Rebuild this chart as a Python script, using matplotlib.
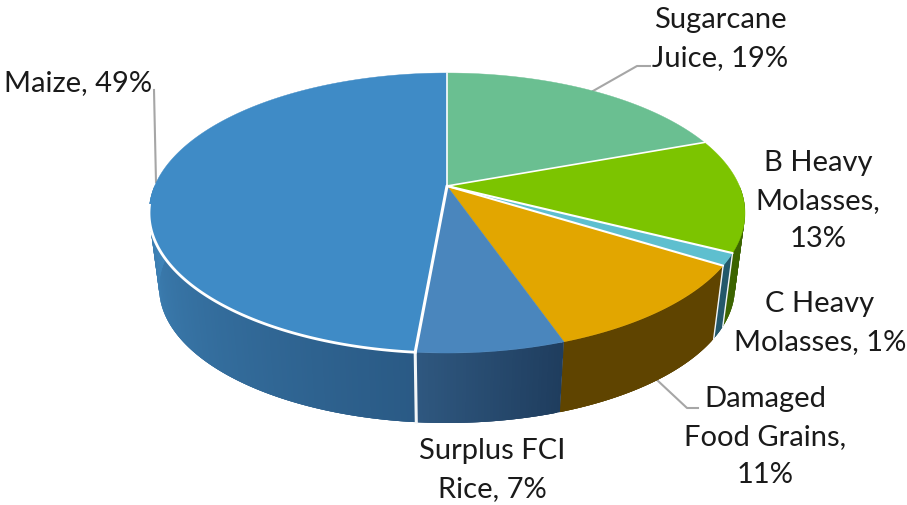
import numpy as np
import matplotlib
matplotlib.use("Agg")
import matplotlib.pyplot as plt
from matplotlib.colors import to_rgb

shares = [19.4, 13.1, 1.4, 10.8, 6.7, 48.6]
labels = ["Sugarcane\nJuice, 19%", "B Heavy\nMolasses,\n13%", "C Heavy\nMolasses, 1%",
          "Damaged\nFood Grains,\n11%", "Surplus FCI\nRice, 7%", "Maize, 49%"]

top_colors = ["#6abf91", "#7cc400", "#5ebfcf", "#e2a600", "#4a86bd", "#3f8bc6"]
side_start = ["#3c6400", "#3c6400", "#23586a", "#5f4400", "#1f3d5e", "#2a5a85"]  # right end of wall
side_end = ["#3c6400", "#3c6400", "#23586a", "#5f4400", "#2f5880", "#3f84b9"]    # left end of wall
label_pos = [(720, 39), (818, 201), (820, 323), (765, 437), (492, 470), (78, 83)]

# projection of the disc, in pixels
CX, CY, RX, RY = 447, 213, 298, 140
HUB = 27  # how far the centre of the disc sits above the middle of the ellipse
C = 0.193
D = RX * np.sqrt(1 - C ** 2)
LOW_S, LOW_CY = 0.966, 287.7


def project(t, scale=1.0, cy=CY):
    # t in degrees clockwise from the top of the disc
    u, v = np.sin(np.radians(t)), np.cos(np.radians(t))
    w = 1 + C * v
    return CX + scale * D * u / w, cy - scale * (RY * v + HUB) / w


edges = np.concatenate([[0], np.cumsum(shares)]) * 3.6

plt.rcParams['font.family'] = ['Lato', 'DejaVu Sans']
fig = plt.figure(figsize=(9.07, 5.05), dpi=100)
ax = fig.add_axes([0, 0, 1, 1])
ax.set_xlim(0, 907)
ax.set_ylim(505, 0)
ax.axis("off")

# side wall, front half only, as strips so it can shade along the arc
# each strip overlaps the next one, otherwise seams show up
for i in range(len(shares)):
    a, b = max(edges[i], 90), min(edges[i + 1], 270)
    if a >= b:
        continue
    ts = np.arange(a, b, 0.5)
    ts = np.r_[ts, b]
    x1, y1 = project(ts)
    x2, y2 = project(ts, LOW_S, LOW_CY)
    c0, c1 = np.array(to_rgb(side_start[i])), np.array(to_rgb(side_end[i]))
    for j in range(len(ts) - 1):
        k = min(j + 3, len(ts) - 1)
        f = j / max(len(ts) - 2, 1)
        ax.fill(np.r_[x1[j:k + 1], x2[j:k + 1][::-1]], np.r_[y1[j:k + 1], y2[j:k + 1][::-1]],
                color=c0 + (c1 - c0) * f, lw=0, zorder=2)

# top face
hx, hy = CX, CY - HUB
for i in range(len(shares)):
    ts = np.linspace(edges[i], edges[i + 1], 200)
    x, y = project(ts)
    ax.fill(np.r_[hx, x], np.r_[hy, y], color=top_colors[i], lw=0.3, zorder=3)

# white seams between the slices
seam_width = [1.2, 1.5, 1.5, 0, 2.2, 1.2]
for i in range(len(shares)):
    if seam_width[i] == 0:
        continue
    x, y = project(edges[i + 1] % 360)
    ax.plot([hx, x], [hy, y], color="white", lw=seam_width[i], zorder=4, solid_capstyle="round")

# white rim along the front of the big slice, and the seams on the wall
ts = np.linspace(edges[5], 262, 120)
ax.plot(*project(ts), color="white", lw=2, zorder=4)
wall_seams = [(edges[2], 1.0), (edges[3], 1.0), (edges[5], 2.2)]
for t, w in wall_seams:
    x1, y1 = project(t)
    x2, y2 = project(t, LOW_S, LOW_CY)
    ax.plot([x1, x2], [y1, y2], color="#f2f6f8", lw=w, zorder=2.5)

# leader lines
leader = "#a6a6a6"
ax.plot([593, 637, 650], [91, 66, 66], color=leader, lw=1.5, zorder=1)
ax.plot([156, 154], [182, 90], color=leader, lw=1.5, zorder=1)
ax.plot([657, 687, 698], [380, 408, 408], color=leader, lw=1.5, zorder=1)

for text, (x, y) in zip(labels, label_pos):
    ax.text(x, y, text, ha="center", va="center", fontsize=21, color="#1a1a1a",
            linespacing=1.58, zorder=5)

fig.savefig("out.png", dpi=100)
